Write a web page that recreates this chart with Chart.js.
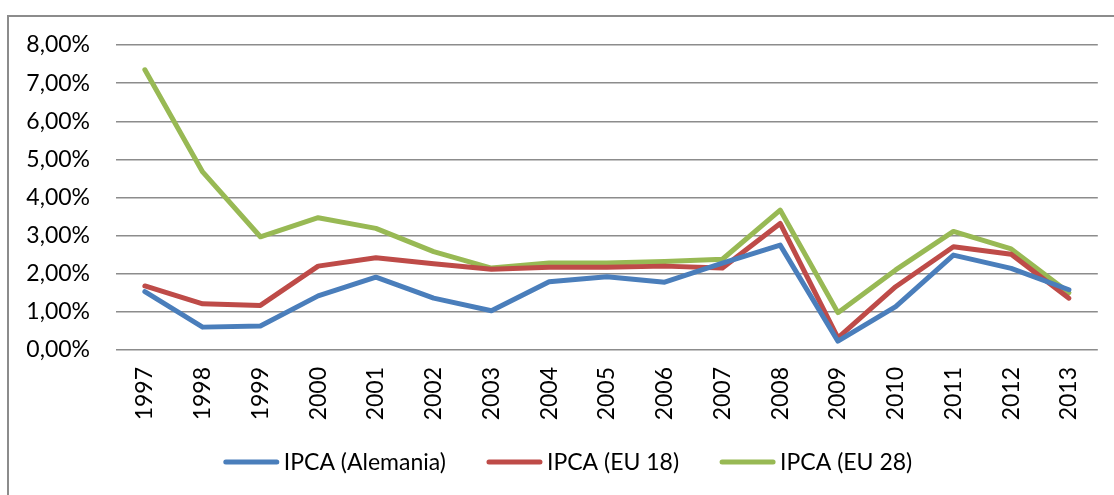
<!DOCTYPE html>
<html>
<head>
<meta charset="utf-8">
<script src="https://cdn.jsdelivr.net/npm/chart.js@4/dist/chart.umd.min.js"></script>
<style>
  html, body { margin: 0; padding: 0; background: #fff; }
  #wrap { width: 1114px; height: 495px; position: relative; }
</style>
</head>
<body>
<div id="wrap"><canvas id="ipcaChart"></canvas></div>
<script>
// Años e inflación anual IPCA (%)
const years = ["1997", "1998", "1999", "2000", "2001", "2002", "2003", "2004", "2005",
  "2006", "2007", "2008", "2009", "2010", "2011", "2012", "2013"];
const ipcaAlemania = [1.53, 0.60, 0.63, 1.42, 1.91, 1.36, 1.03, 1.79, 1.92, 1.78, 2.28, 2.75, 0.23, 1.14, 2.49, 2.14, 1.58];
const ipcaEU18 = [1.68, 1.21, 1.17, 2.20, 2.42, 2.26, 2.12, 2.17, 2.17, 2.20, 2.15, 3.32, 0.32, 1.66, 2.71, 2.51, 1.36];
const ipcaEU28 = [7.35, 4.67, 2.97, 3.47, 3.19, 2.58, 2.15, 2.28, 2.28, 2.32, 2.38, 3.67, 0.98, 2.10, 3.11, 2.65, 1.50];
const yMax = 8;
const yStep = 1;

const FONT = "Lato, 'Liberation Sans', sans-serif";
const FONT_SIZE = 23;

// marco del gráfico (solo borde izquierdo y superior)
const frame = {
  id: "frame",
  beforeDraw(chart) {
    const ctx = chart.ctx;
    ctx.save();
    ctx.strokeStyle = "#8c8c8c";
    ctx.lineWidth = 2;
    ctx.beginPath();
    ctx.moveTo(8, 495);
    ctx.lineTo(8, 16);
    ctx.lineTo(1114, 16);
    ctx.stroke();
    ctx.restore();
  }
};

// leyenda estilo Excel: línea de muestra + texto pegado, centrada bajo el eje
const excelLegend = {
  id: "excelLegend",
  afterDraw(chart) {
    const ctx = chart.ctx;
    const sample = 55, gapText = 5, gapItem = 41;
    const cx = 568, cy = 462;
    ctx.save();
    ctx.font = FONT_SIZE + "px " + FONT;
    ctx.textBaseline = "middle";
    const items = chart.data.datasets.map(ds => ({
      text: ds.label, color: ds.borderColor, w: ctx.measureText(ds.label).width
    }));
    const total = items.reduce((s, it) => s + sample + gapText + it.w, 0) + gapItem * (items.length - 1);
    let x = cx - total / 2;
    items.forEach(it => {
      ctx.strokeStyle = it.color;
      ctx.lineWidth = 5;
      ctx.lineCap = "round";
      ctx.beginPath();
      ctx.moveTo(x + 2, cy);
      ctx.lineTo(x + sample - 2, cy);
      ctx.stroke();
      ctx.fillStyle = "#000";
      ctx.fillText(it.text, x + sample + gapText, cy + 1);
      x += sample + gapText + it.w + gapItem;
    });
    ctx.restore();
  }
};

function serie(label, data, color) {
  return {
    label: label,
    data: data,
    borderColor: color,
    backgroundColor: color,
    borderWidth: 5,
    pointRadius: 0,
    tension: 0,
    borderJoinStyle: "round",
    borderCapStyle: "round"
  };
}

new Chart(document.getElementById("ipcaChart"), {
  type: "line",
  data: {
    labels: years,
    datasets: [
      serie("IPCA (Alemania)", ipcaAlemania, "#4a7ebb"),
      serie("IPCA (EU 18)", ipcaEU18, "#be4b48"),
      serie("IPCA (EU 28)", ipcaEU28, "#98b954")
    ]
  },
  options: {
    responsive: true,
    maintainAspectRatio: false,
    animation: false,
    layout: { padding: { top: 45, right: 16, bottom: 73, left: 0 } },
    plugins: {
      tooltip: { enabled: false },
      legend: { display: false }
    },
    scales: {
      x: {
        offset: true,
        grid: { display: false, drawTicks: false },
        border: { display: false },
        ticks: {
          color: "#000",
          font: { family: FONT, size: FONT_SIZE },
          minRotation: 90,
          maxRotation: 90,
          padding: 17
        },
        afterFit(scale) { scale.height = 72; }
      },
      y: {
        min: 0,
        max: yMax,
        grid: { color: "#8c8c8c", lineWidth: 1.5, drawTicks: false },
        border: { display: false },
        ticks: {
          stepSize: yStep,
          color: "#000",
          font: { family: FONT, size: FONT_SIZE },
          padding: 26,
          callback: v => v.toFixed(2).replace(".", ",") + "%"
        },
        afterFit(scale) { scale.width = 116; }
      }
    }
  },
  plugins: [frame, excelLegend]
});
</script>
</body>
</html>
